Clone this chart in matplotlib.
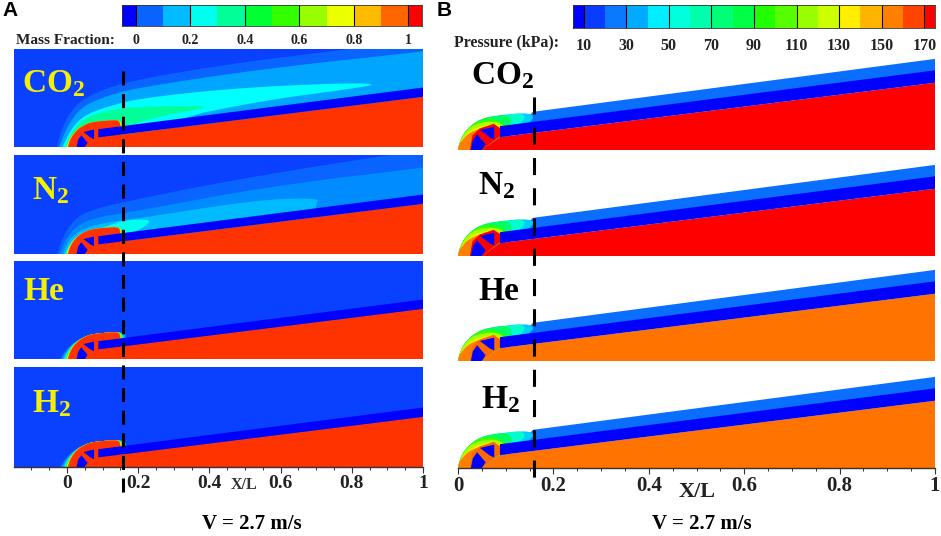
# coding:utf-8
import matplotlib
matplotlib.use("Agg")
import matplotlib.pyplot as plt
import numpy as np

plt.rcParams['font.family'] = ['Liberation Serif', 'DejaVu Serif']
plt.rcParams['font.weight'] = 'bold'
plt.rcParams['mathtext.fontset'] = 'custom'
plt.rcParams['mathtext.bf'] = 'Liberation Serif:bold'
plt.rcParams['mathtext.rm'] = 'Liberation Serif:bold'
plt.rcParams['mathtext.default'] = 'bf'

W, H = 941, 536

# colour bars
mass_edges = [-0.05, 0, 0.1, 0.2, 0.3, 0.4, 0.5, 0.6, 0.7, 0.8, 0.9, 1.0, 1.05]
mass_ticks = [0, 0.2, 0.4, 0.6, 0.8, 1]
mass_labels = ["0", "0.2", "0.4", "0.6", "0.8", "1"]
mass_colors = ["#0000ff", "#0a64ff", "#00bbff", "#00ffee", "#00ff99", "#00ff33",
               "#33ff00", "#99ff00", "#eeff00", "#ffbb00", "#ff6600", "#ff0000"]
pressure_edges = [5, 10, 20, 30, 40, 50, 60, 70, 80, 90, 100, 110, 120, 130, 140, 150, 160, 170, 175]
pressure_ticks = [10, 30, 50, 70, 90, 110, 130, 150, 170]
pressure_colors = ["#0000ff", "#0a3cff", "#0a78ff", "#00aaff", "#00eeff", "#00ffdd",
                   "#00ffaa", "#00ff77", "#00ff44", "#22ff00", "#55ff00", "#99ff00",
                   "#ccff00", "#ffee00", "#ffb400", "#ff8000", "#ff4400", "#ff0000"]

# body outlines, X/L units
wedge_x = [0.05, 0.088, 1.0, 1.0]
wedge_y = [0.0, 0.027, 0.141, 0.0]
band_x = [0.088, 0.088, 1.0, 1.0]
band_y = [0.027, 0.05, 0.167, 0.141]
cowl_x = [0.13, 0.157, 1.0, 1.0, 0.157]
cowl_y = [0.05, 0.08, 0.191, 0.165, 0.058]
chamber1_x = [0.027, 0.031, 0.04, 0.058, 0.05]
chamber1_y = [0.0, 0.02, 0.033, 0.012, 0.0]
chamber2_x = [0.046, 0.076, 0.076, 0.067]
chamber2_y = [0.042, 0.049, 0.022, 0.026]
capsule_x = [0.003, 0.008, 0.018, 0.033, 0.052, 0.072, 0.135, 0.148, 0.15, 0.15]
capsule_y = [0.0, 0.018, 0.036, 0.052, 0.063, 0.0705, 0.076, 0.072, 0.055, 0.0]

# mass fraction plumes, outermost first, the last points run past the right edge
co2_plume = [
    ("#0a64ff", [-0.029, -0.01, 0.027, 0.083, 0.186, 0.467, 0.786, 1.2, 1.2],
     [0, 0.066, 0.122, 0.155, 0.188, 0.235, 0.274, 0.33, 0]),
    ("#00a5ff", [-0.022, 0, 0.037, 0.093, 0.186, 0.561, 1.0, 1.3, 1.3],
     [0, 0.057, 0.109, 0.137, 0.165, 0.221, 0.268, 0.305, 0]),
    ("#00ffff", [-0.013, 0.013, 0.05, 0.112, 0.205, 0.467, 0.749, 0.88, 0.795, 0.561, 0.28, 0.28],
     [0, 0.053, 0.09, 0.113, 0.137, 0.165, 0.179, 0.178, 0.163, 0.132, 0.076, 0]),
    ("#00ff99", [-0.006, 0.018, 0.055, 0.121, 0.186, 0.299, 0.41, 0.337, 0.262, 0.186, 0.1],
     [0, 0.052, 0.085, 0.104, 0.112, 0.115, 0.115, 0.1, 0.086, 0.066, 0]),
]
n2_plume = [
    ("#0a64ff", [-0.027, -0.01, 0.027, 0.083, 0.186, 0.467, 0.879, 1.2, 1.2],
     [0, 0.053, 0.105, 0.128, 0.152, 0.208, 0.275, 0.32, 0]),
    ("#008cff", [-0.02, 0, 0.037, 0.093, 0.186, 0.561, 1.0, 1.3, 1.3],
     [0, 0.049, 0.086, 0.105, 0.119, 0.189, 0.243, 0.28, 0]),
    ("#00bbff", [-0.012, 0.008, 0.046, 0.111, 0.186, 0.467, 0.608, 0.711, 0.697, 0.697],
     [0, 0.044, 0.072, 0.089, 0.098, 0.142, 0.156, 0.156, 0.138, 0]),
    ("#00ffee", [-0.006, 0.013, 0.05, 0.111, 0.158, 0.238, 0.219, 0.186, 0.1],
     [0, 0.039, 0.063, 0.077, 0.095, 0.098, 0.077, 0.061, 0]),
]
glow_heavy = [("#00ff66", 0.007), ("#eeff00", 0.0045), ("#ff9900", 0.002)]
glow_light = [("#0a78ff", 0.022), ("#00bbff", 0.016), ("#00ffcc", 0.011),
              ("#33ff00", 0.007), ("#eeff00", 0.004), ("#ff9900", 0.002)]

# pressure layers at the nose, outermost first
arc_x = [0.0, 0.004, 0.013, 0.028, 0.047, 0.07]
arc_y = [0.0, 0.018, 0.036, 0.052, 0.064, 0.0705]
nose_layers = [
    ("#00ccff", arc_x + [0.157, 0.157, 0.05], arc_y + [0.08, 0.058, 0]),
    ("#00ffcc", arc_x + [0.142, 0.136, 0.05], arc_y + [0.079, 0.056, 0]),
    ("#00ff66", arc_x + [0.107, 0.116, 0.05], arc_y + [0.075, 0.052, 0]),
    ("#33ff00", arc_x[:5] + [0.075, 0.103, 0.105, 0.05], arc_y[:5] + [0.066, 0.053, 0.045, 0]),
    ("#aaff00", [0, 0.004, 0.012, 0.027, 0.05, 0.08, 0.098, 0.1, 0.05],
     [0, 0.018, 0.033, 0.05, 0.058, 0.06, 0.05, 0.04, 0]),
    ("#ffee00", [0, 0.005, 0.015, 0.03, 0.05, 0.075, 0.092, 0.09, 0.05],
     [0, 0.016, 0.03, 0.042, 0.05, 0.055, 0.047, 0.03, 0]),
    ("#ff8000", [0, 0.002, 0.01, 0.02, 0.033, 0.05, 0.075, 0.09, 0.09, 0.05],
     [0, 0.012, 0.022, 0.033, 0.04, 0.046, 0.05, 0.042, 0.03, 0]),
]
ring_x = [0.025, 0.03, 0.045, 0.075, 0.09, 0.09, 0.05]
ring_y = [0.0, 0.03, 0.045, 0.055, 0.045, 0.03, 0.0]

species = [r"CO$_{2}$", r"N$_{2}$", "He", r"H$_{2}$"]
axis_ticks = [0, 0.2, 0.4, 0.6, 0.8, 1]
axis_labels = ["0", "0.2", "0.4", "0.6", "0.8", "1"]

# pixel layout
a_tops = [49, 155, 261, 367]
a_bottoms = [147, 254, 359, 467]
b_bottoms = [150, 256, 361, 468]
a_scale = 356.0
a_zero = 67
b_scale = 477.0
b_zero = 458

fig = plt.figure(figsize=(W / 100, H / 100), dpi=100, facecolor="white")


def px_axes(left, top, right, bottom):
    return fig.add_axes([left / W, 1 - bottom / H, (right - left) / W, (bottom - top) / H])


def smooth(xs, ys, rounds=2):
    # corner cutting, end points stay where they are
    x = np.array(xs, dtype=float)
    y = np.array(ys, dtype=float)
    for _ in range(rounds):
        nx = [x[0]]
        ny = [y[0]]
        for j in range(len(x) - 1):
            nx += [0.75 * x[j] + 0.25 * x[j + 1], 0.25 * x[j] + 0.75 * x[j + 1]]
            ny += [0.75 * y[j] + 0.25 * y[j + 1], 0.25 * y[j] + 0.75 * y[j + 1]]
        nx.append(x[-1])
        ny.append(y[-1])
        x = np.array(nx)
        y = np.array(ny)
    return x, y


def colorbar(left, right, top, bottom, edges, colors, ticks, labels, fsize, pad):
    ax = px_axes(left, top, right, bottom)
    for i, c in enumerate(colors):
        ax.axvspan(edges[i], edges[i + 1], color=c, lw=0)
    ax.vlines(ticks, 0, 1, color="black", lw=0.8)
    ax.set_xlim(edges[0], edges[-1])
    ax.set_ylim(0, 1)
    ax.set_yticks([])
    ax.set_xticks(ticks)
    ax.set_xticklabels(labels, fontsize=fsize, fontweight="bold", color="#222222")
    ax.tick_params(axis="x", length=0, pad=pad)
    for s in ax.spines.values():
        s.set_linewidth(0.6)
        s.set_color("#333333")


def glow(ax, items):
    xs = np.array(capsule_x)
    ys = np.array(capsule_y)
    for color, k in items:
        shift = k * (1 - np.minimum(ys / 0.07, 1))
        gx = xs - shift
        gx[-3:] = xs[-3:] + k * 0.8
        gx[-4] = xs[-4] + k * 0.3
        sx, sy = smooth(gx, ys)
        ax.fill(sx, sy, color=color, lw=0)


def bottom_axis(ax, fsize, xlim):
    ax.spines["bottom"].set_visible(True)
    ax.spines["bottom"].set_color("#333333")
    ax.spines["bottom"].set_linewidth(1.0)
    ax.set_xticks(axis_ticks)
    ax.set_xticklabels(axis_labels, fontsize=fsize, fontweight="bold", color="#222222")
    ax.set_xticks(np.arange(-0.15, 1.001, 0.05), minor=True)
    ax.tick_params(axis="x", which="major", length=4, width=0.8, pad=2, color="#333333")
    ax.tick_params(axis="x", which="minor", length=2.2, width=0.7, color="#333333")
    ax.set_xlim(*xlim)


def clean(ax):
    ax.set_yticks([])
    ax.set_xticks([])
    for s in ax.spines.values():
        s.set_visible(False)


# panel A
a_xlim = ((14 - a_zero) / a_scale, 1)
for i in range(4):
    ax = px_axes(14, a_tops[i], 423, a_bottoms[i])
    clean(ax)
    ax.set_facecolor("#0a40ff")
    ax.set_xlim(*a_xlim)
    ax.set_ylim(0, (a_bottoms[i] - a_tops[i]) / a_scale)
    if i == 0:
        plume = co2_plume
    elif i == 1:
        plume = n2_plume
    else:
        plume = []
    for color, px, py in plume:
        sx, sy = smooth(px, py)
        ax.fill(sx, sy, color=color, lw=0)
    glow(ax, glow_heavy if i < 2 else glow_light)
    sx, sy = smooth(capsule_x, capsule_y)
    ax.fill(sx, sy, color="#ff3300", lw=0)
    ax.fill(wedge_x, wedge_y, color="#ff3300", lw=0)
    ax.fill(band_x, band_y, color="#0000ff", lw=0)
    ax.fill(chamber1_x, chamber1_y, color="#0000ff", lw=0)
    ax.fill(chamber2_x, chamber2_y, color="#0000ff", lw=0)
    if i == 3:
        bottom_axis(ax, 14, a_xlim)

# panel B
for i in range(4):
    ax = px_axes(458, b_bottoms[i] - 100, 935, b_bottoms[i])
    clean(ax)
    ax.patch.set_alpha(0)
    ax.set_xlim(0, 1)
    ax.set_ylim(0, 100 / b_scale)
    body = "#ff0000" if i < 2 else "#ff7300"
    ax.fill(cowl_x, cowl_y, color="#0a6eff", lw=0)
    for color, px, py in nose_layers:
        sx, sy = smooth(px, py)
        ax.fill(sx, sy, color=color, lw=0)
    ax.fill(ring_x, ring_y, color=body if i < 2 else "#ff6a00", lw=0)
    ax.fill(wedge_x, wedge_y, color=body, lw=0)
    ax.fill(band_x, band_y, color="#0000ff", lw=0)
    ax.fill(chamber1_x, chamber1_y, color="#0000ff", lw=0)
    ax.fill(chamber2_x, chamber2_y, color="#0000ff", lw=0)
    if i == 3:
        bottom_axis(ax, 15, (0, 1))

colorbar(122, 422, 5, 26, mass_edges, mass_colors, mass_ticks, mass_labels, 10, 6)
colorbar(573, 935, 5, 28, pressure_edges, pressure_colors, pressure_ticks,
         [str(t) for t in pressure_ticks], 11.5, 7)

# overlay in pixel coordinates for the free text and dashed markers
top = fig.add_axes([0, 0, 1, 1], zorder=10)
top.set_xlim(0, W)
top.set_ylim(H, 0)
top.axis("off")
top.plot([123, 123], [71, 496], color="black", lw=2.2, linestyle=(0, (4.6, 2.8)), dash_capstyle="butt")
top.plot([534, 534], [97, 483], color="black", lw=2.2, linestyle=(0, (5.6, 4.3)), dash_capstyle="butt")

top.text(2, 11, "A", fontfamily="Liberation Sans", fontsize=15, fontweight="bold", ha="left", va="center")
top.text(437, 11, "B", fontfamily="Liberation Sans", fontsize=15, fontweight="bold", ha="left", va="center")
top.text(115, 40, "Mass Fraction:", fontsize=11, fontweight="bold", ha="right", va="center", color="#222222")
top.text(559, 42, "Pressure (kPa):", fontsize=11.4, fontweight="bold", ha="right", va="center", color="#222222")

a_label_x = [22, 32, 23, 32]
a_label_y = [84, 191, 292, 404]
b_label_x = [471, 478, 478, 481]
b_label_y = [76, 186, 292, 400]
for i in range(4):
    top.text(a_label_x[i], a_label_y[i], species[i], color="#f5f000", fontsize=24, fontweight="bold",
             ha="left", va="center")
    top.text(b_label_x[i], b_label_y[i], species[i], color="black", fontsize=24, fontweight="bold",
             ha="left", va="center")

top.text(244, 485, "X/L", fontsize=11.5, fontweight="bold", ha="center", va="center", color="#333333")
top.text(697, 492, "X/L", fontsize=16, fontweight="bold", ha="center", va="center", color="#222222")
top.text(252, 524, "V = 2.7 m/s", fontsize=15, fontweight="bold", ha="center", va="center")
top.text(702, 524, "V = 2.7 m/s", fontsize=15, fontweight="bold", ha="center", va="center")

fig.savefig("out.png", dpi=100)
